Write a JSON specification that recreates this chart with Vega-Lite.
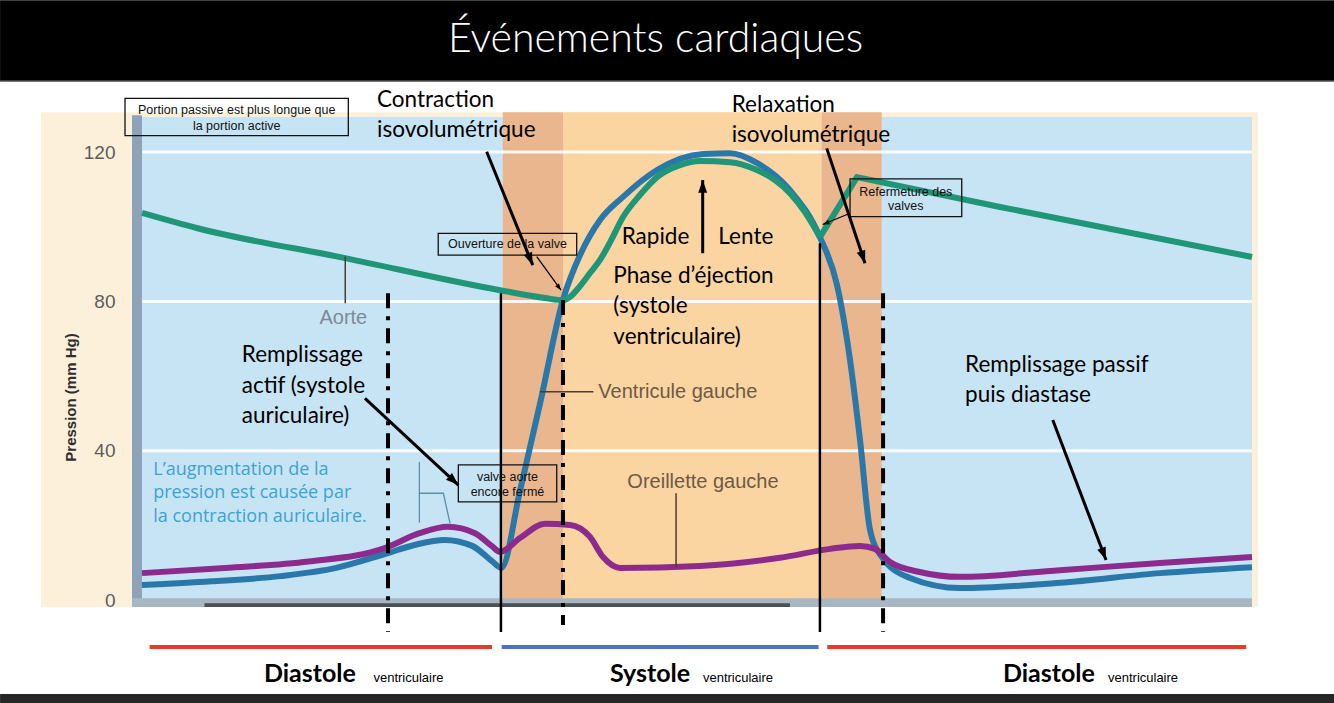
{
"$schema": "https://vega.github.io/schema/vega-lite/v6.json",
"width": 1110,
"height": 483,
"autosize": {"type": "none"},
"padding": {"left": 142, "top": 117, "right": 82, "bottom": 103},
"background": "#ffffff",
"config": {"view": {"stroke": null}},
"datasets": {
 "decor": [
  {"part": "title bar", "t": -102.3, "t2": 859.1, "p": 139.0, "p2": 160.7},
  {"part": "footer bar", "t": -102.3, "t2": 859.1, "p": -25.2, "p2": -27.6},
  {"part": "panel", "t": -72.8, "t2": 804.3, "p": -1.9, "p2": 130.7},
  {"part": "plot", "t": 0, "t2": 800, "p": 0, "p2": 129.4},
  {"part": "isovolumetric", "t": 260, "t2": 303.6, "p": 0, "p2": 130.7},
  {"part": "ejection", "t": 303.6, "t2": 489.9, "p": 0, "p2": 130.7},
  {"part": "isovolumetric", "t": 489.9, "t2": 533.1, "p": 0, "p2": 130.7},
  {"part": "axis strip", "t": -7.2, "t2": 0, "p": -1.9, "p2": 129.9},
  {"part": "axis base", "t": -7.2, "t2": 800, "p": -1.9, "p2": 0.5},
  {"part": "axis bar", "t": 45, "t2": 467, "p": -1.9, "p2": -0.9}
 ],
 "grid": [
  {"t": 0, "t2": 800, "p": 40},
  {"t": 0, "t2": 800, "p": 80},
  {"t": 0, "t2": 800, "p": 120}
 ],
 "pressure": [
  {"series": "Aorte", "t": 0, "p": 103.7},
  {"series": "Aorte", "t": 40, "p": 99.6},
  {"series": "Aorte", "t": 146.3, "p": 91.6},
  {"series": "Aorte", "t": 258, "p": 83.0},
  {"series": "Aorte", "t": 290.5, "p": 80.9},
  {"series": "Aorte", "t": 303.4, "p": 80.3},
  {"series": "Aorte", "t": 308.5, "p": 81.2},
  {"series": "Aorte", "t": 315.7, "p": 84.1},
  {"series": "Aorte", "t": 322.9, "p": 87.6},
  {"series": "Aorte", "t": 330.1, "p": 91.1},
  {"series": "Aorte", "t": 337.3, "p": 95.8},
  {"series": "Aorte", "t": 346.7, "p": 102.6},
  {"series": "Aorte", "t": 358.9, "p": 108.5},
  {"series": "Aorte", "t": 371.2, "p": 113.3},
  {"series": "Aorte", "t": 387.7, "p": 116.5},
  {"series": "Aorte", "t": 402.2, "p": 117.6},
  {"series": "Aorte", "t": 423.8, "p": 117.3},
  {"series": "Aorte", "t": 443.2, "p": 115.2},
  {"series": "Aorte", "t": 456.2, "p": 112.5},
  {"series": "Aorte", "t": 467, "p": 109.0},
  {"series": "Aorte", "t": 477.8, "p": 103.9},
  {"series": "Aorte", "t": 488.6, "p": 97.2},
  {"series": "Aorte", "t": 515.3, "p": 113.3},
  {"series": "Aorte", "t": 618.4, "p": 105.3},
  {"series": "Aorte", "t": 800, "p": 91.9},
  {"series": "Ventricule gauche", "t": 0, "p": 4.0},
  {"series": "Ventricule gauche", "t": 50, "p": 5.0},
  {"series": "Ventricule gauche", "t": 100, "p": 6.4},
  {"series": "Ventricule gauche", "t": 140, "p": 8.6},
  {"series": "Ventricule gauche", "t": 175, "p": 12.3},
  {"series": "Ventricule gauche", "t": 197, "p": 14.8},
  {"series": "Ventricule gauche", "t": 218, "p": 16.1},
  {"series": "Ventricule gauche", "t": 238, "p": 14.5},
  {"series": "Ventricule gauche", "t": 252, "p": 10.5},
  {"series": "Ventricule gauche", "t": 259, "p": 8.6},
  {"series": "Ventricule gauche", "t": 272.4, "p": 29.2},
  {"series": "Ventricule gauche", "t": 286.8, "p": 52.5},
  {"series": "Ventricule gauche", "t": 303.4, "p": 80.4},
  {"series": "Ventricule gauche", "t": 315.7, "p": 92.4},
  {"series": "Ventricule gauche", "t": 330.1, "p": 101.8},
  {"series": "Ventricule gauche", "t": 346.7, "p": 108.0},
  {"series": "Ventricule gauche", "t": 371.2, "p": 115.2},
  {"series": "Ventricule gauche", "t": 404.3, "p": 119.5},
  {"series": "Ventricule gauche", "t": 423.8, "p": 119.7},
  {"series": "Ventricule gauche", "t": 443.2, "p": 117.1},
  {"series": "Ventricule gauche", "t": 467, "p": 109.8},
  {"series": "Ventricule gauche", "t": 488.6, "p": 97.2},
  {"series": "Ventricule gauche", "t": 500.9, "p": 84.4},
  {"series": "Ventricule gauche", "t": 510.3, "p": 64.3},
  {"series": "Ventricule gauche", "t": 517.5, "p": 42.9},
  {"series": "Ventricule gauche", "t": 524.7, "p": 18.8},
  {"series": "Ventricule gauche", "t": 533.3, "p": 11.5},
  {"series": "Ventricule gauche", "t": 553.5, "p": 5.9},
  {"series": "Ventricule gauche", "t": 589.5, "p": 3.2},
  {"series": "Ventricule gauche", "t": 661.6, "p": 4.6},
  {"series": "Ventricule gauche", "t": 733.7, "p": 7.2},
  {"series": "Ventricule gauche", "t": 800, "p": 8.8},
  {"series": "Oreillette gauche", "t": 0, "p": 7.2},
  {"series": "Oreillette gauche", "t": 60, "p": 8.6},
  {"series": "Oreillette gauche", "t": 120, "p": 10.3},
  {"series": "Oreillette gauche", "t": 175, "p": 13.9},
  {"series": "Oreillette gauche", "t": 200, "p": 17.9},
  {"series": "Oreillette gauche", "t": 220.5, "p": 19.6},
  {"series": "Oreillette gauche", "t": 240, "p": 17.9},
  {"series": "Oreillette gauche", "t": 252, "p": 14.5},
  {"series": "Oreillette gauche", "t": 258, "p": 12.9},
  {"series": "Oreillette gauche", "t": 272.4, "p": 16.6},
  {"series": "Oreillette gauche", "t": 290.5, "p": 20.4},
  {"series": "Oreillette gauche", "t": 308.5, "p": 20.1},
  {"series": "Oreillette gauche", "t": 322.9, "p": 16.9},
  {"series": "Oreillette gauche", "t": 332.3, "p": 11.5},
  {"series": "Oreillette gauche", "t": 344.5, "p": 8.6},
  {"series": "Oreillette gauche", "t": 402.2, "p": 9.1},
  {"series": "Oreillette gauche", "t": 459.8, "p": 11.3},
  {"series": "Oreillette gauche", "t": 495.9, "p": 13.7},
  {"series": "Oreillette gauche", "t": 517.5, "p": 14.5},
  {"series": "Oreillette gauche", "t": 528.3, "p": 13.7},
  {"series": "Oreillette gauche", "t": 539.1, "p": 10.2},
  {"series": "Oreillette gauche", "t": 560.5, "p": 7.5},
  {"series": "Oreillette gauche", "t": 589.5, "p": 6.2},
  {"series": "Oreillette gauche", "t": 661.6, "p": 8.0},
  {"series": "Oreillette gauche", "t": 733.7, "p": 9.9},
  {"series": "Oreillette gauche", "t": 800, "p": 11.5}
 ],
 "events": [
  {"kind": "dashdot", "t": 177.3, "p": 82.2, "p2": -8.6},
  {"kind": "dashdot", "t": 303.4, "p": 80.4, "p2": -6.7},
  {"kind": "dashdot", "t": 534.1, "p": 82.2, "p2": -8.6},
  {"kind": "solid", "t": 258.7, "p": 82.2, "p2": -8.6},
  {"kind": "solid", "t": 488.6, "p": 95.6, "p2": -8.6}
 ],
 "leaders": [
  {"label": "Aorte", "t": 146.5, "t2": 146.5, "p": 92.0, "p2": 79.5},
  {"label": "Ventricule gauche", "t": 286.8, "t2": 325.3, "p": 55.8, "p2": 55.8},
  {"label": "Oreillette gauche", "t": 384.9, "t2": 384.9, "p": 28.6, "p2": 8.8}
 ],
 "bracket": [
  {"t": 199.9, "p": 28.6},
  {"t": 217.2, "p": 28.6},
  {"t": 222, "p": 20.5}
 ],
 "boxes": [
  {"t": -12.25, "t2": 148.7, "p": 124.4, "p2": 134.4},
  {"t": 213.5, "t2": 313.3, "p": 92.4, "p2": 98.2},
  {"t": 510.3, "t2": 590.8, "p": 102.7, "p2": 112.8},
  {"t": 228, "t2": 298.9, "p": 26.3, "p2": 36.2}
 ],
 "arrows": [
  {"name": "A", "weight": "thick", "t": 281.6, "p": 89.7, "t2": 248.4, "p2": 120.1},
  {"name": "B", "weight": "thin", "t": 302, "p": 83.0, "t2": 284.5, "p2": 92.0},
  {"name": "C", "weight": "thick", "t": 404.1, "p": 112.5, "t2": 404.1, "p2": 92.9},
  {"name": "D", "weight": "thick", "t": 521.1, "p": 90.2, "t2": 493.5, "p2": 121.0},
  {"name": "E", "weight": "thin", "t": 490.6, "p": 100.6, "t2": 510.3, "p2": 103.6},
  {"name": "F", "weight": "thick", "t": 228, "p": 30.8, "t2": 160.7, "p2": 54.0},
  {"name": "G", "weight": "thick", "t": 694.8, "p": 10.7, "t2": 656.4, "p2": 48.2}
 ],
 "phases": [
  {"phase": "Diastole", "t": 5.5, "t2": 252.3, "p": -12.6},
  {"phase": "Systole", "t": 259.2, "t2": 487.6, "p": -12.6},
  {"phase": "Diastole", "t": 493.9, "t2": 795.8, "p": -12.6}
 ]
},
"encoding": {
 "x": {"field": "t", "type": "quantitative", "scale": {"domain": [0, 800], "nice": false, "zero": false}, "axis": null},
 "y": {"field": "p", "type": "quantitative", "scale": {"domain": [0, 129.4], "nice": false, "zero": false},
  "axis": {"values": [0, 40, 80, 120], "title": "Pression (mm Hg)", "domain": false, "ticks": false, "grid": false, "zindex": 1,
   "labelFont": "Liberation Sans", "labelFontSize": 19, "labelColor": "#5c5c5c", "labelPadding": 27, "labelFlush": false,
   "titleFont": "Liberation Sans", "titleFontSize": 15, "titleFontWeight": "bold", "titleColor": "#2e2e2e",
   "titleX": -72, "titleY": 280, "titleAngle": 270, "titleAlign": "center", "titleBaseline": "middle"}}
},
"layer": [
 {"data": {"name": "decor"}, "mark": {"type": "rect"},
  "encoding": {"x2": {"field": "t2"}, "y2": {"field": "p2"},
   "color": {"field": "part", "type": "nominal", "legend": null,
    "scale": {"domain": ["title bar", "footer bar", "panel", "plot", "isovolumetric", "ejection", "axis strip", "axis base", "axis bar"],
     "range": ["#000000", "#262626", "#fcf0da", "#c7e4f5", "#e9b68d", "#fad5a2", "#8ea3b9", "#a9b7c4", "#4a5158"]}}}},
 {"data": {"values": [{"t": -102.3, "t2": 859.1, "p": 139.0}]}, "mark": {"type": "rule", "color": "#7a7a7a", "strokeWidth": 1.5},
  "encoding": {"x2": {"field": "t2"}}},
 {"data": {"name": "grid"}, "mark": {"type": "rule", "color": "#ffffff", "strokeWidth": 3, "opacity": 0.9},
  "encoding": {"x2": {"field": "t2"}}},
 {"data": {"name": "pressure"}, "transform": [{"filter": "datum.series !== 'Aorte'"}],
  "mark": {"type": "line", "interpolate": "monotone", "strokeWidth": 6},
  "encoding": {"color": {"field": "series", "type": "nominal", "legend": null,
   "scale": {"domain": ["Oreillette gauche", "Ventricule gauche"], "range": ["#8c2b8d", "#2a78aa"]}}}},
 {"data": {"name": "pressure"}, "transform": [{"filter": "datum.series === 'Aorte' && datum.t <= 488.6"}],
  "mark": {"type": "line", "interpolate": "monotone", "strokeWidth": 6, "color": "#1f9677"}},
 {"data": {"name": "pressure"}, "transform": [{"filter": "datum.series === 'Aorte' && datum.t >= 488.6"}],
  "mark": {"type": "line", "interpolate": "linear", "strokeWidth": 6, "color": "#1f9677", "strokeJoin": "round"}},
 {"data": {"name": "events"}, "transform": [{"filter": "datum.kind === 'dashdot'"}],
  "mark": {"type": "rule", "color": "#000000", "strokeWidth": 4, "strokeDash": [15, 8, 4, 8]},
  "encoding": {"y2": {"field": "p2"}}},
 {"data": {"name": "events"}, "transform": [{"filter": "datum.kind === 'solid'"}],
  "mark": {"type": "rule", "color": "#000000", "strokeWidth": 2.5},
  "encoding": {"y2": {"field": "p2"}}},
 {"data": {"name": "leaders"}, "mark": {"type": "rule", "color": "#4a3c2e", "strokeWidth": 1.5},
  "encoding": {"x2": {"field": "t2"}, "y2": {"field": "p2"}}},
 {"data": {"values": [{"t": 199.9, "p": 37.0, "p2": 20.7}]}, "mark": {"type": "rule", "color": "#5b8fa3", "strokeWidth": 1.3},
  "encoding": {"y2": {"field": "p2"}}},
 {"data": {"name": "bracket"}, "mark": {"type": "line", "color": "#5b8fa3", "strokeWidth": 1.3}},
 {"data": {"name": "boxes"}, "mark": {"type": "rect", "fill": null, "fillOpacity": 0, "stroke": "#111111", "strokeWidth": 1.3},
  "encoding": {"x2": {"field": "t2"}, "y2": {"field": "p2"}}},
 {"data": {"name": "arrows"}, "mark": {"type": "rule", "color": "#000000"},
  "encoding": {"x2": {"field": "t2"}, "y2": {"field": "p2"},
   "strokeWidth": {"field": "weight", "type": "nominal", "legend": null, "scale": {"domain": ["thick", "thin"], "range": [3, 1.2]}}}},
 {"data": {"name": "arrows"}, "transform": [{"filter": "datum.name === 'A'"}],
  "mark": {"type": "point", "shape": "M0,0L-0.35,1L0.35,1Z", "filled": true, "color": "#000000", "opacity": 1, "size": 650, "angle": 157.9}},
 {"data": {"name": "arrows"}, "transform": [{"filter": "datum.name === 'B'"}],
  "mark": {"type": "point", "shape": "M0,0L-0.35,1L0.35,1Z", "filled": true, "color": "#000000", "opacity": 1, "size": 180, "angle": 143.9}},
 {"data": {"name": "arrows"}, "transform": [{"filter": "datum.name === 'C'"}],
  "mark": {"type": "point", "shape": "M0,0L-0.35,1L0.35,1Z", "filled": true, "color": "#000000", "opacity": 1, "size": 650, "angle": 0}},
 {"data": {"name": "arrows"}, "transform": [{"filter": "datum.name === 'D'"}],
  "mark": {"type": "point", "shape": "M0,0L-0.35,1L0.35,1Z", "filled": true, "color": "#000000", "opacity": 1, "size": 650, "angle": 161.6}},
 {"data": {"name": "arrows"}, "transform": [{"filter": "datum.name === 'E'"}],
  "mark": {"type": "point", "shape": "M0,0L-0.35,1L0.35,1Z", "filled": true, "color": "#000000", "opacity": 1, "size": 180, "angle": 248}},
 {"data": {"name": "arrows"}, "transform": [{"filter": "datum.name === 'F'"}],
  "mark": {"type": "point", "shape": "M0,0L-0.35,1L0.35,1Z", "filled": true, "color": "#000000", "opacity": 1, "size": 650, "angle": 132.9}},
 {"data": {"name": "arrows"}, "transform": [{"filter": "datum.name === 'G'"}],
  "mark": {"type": "point", "shape": "M0,0L-0.35,1L0.35,1Z", "filled": true, "color": "#000000", "opacity": 1, "size": 650, "angle": 159.2}},
 {"data": {"name": "phases"}, "mark": {"type": "rule", "strokeWidth": 4},
  "encoding": {"x2": {"field": "t2"},
   "color": {"field": "phase", "type": "nominal", "legend": null, "scale": {"domain": ["Diastole", "Systole"], "range": ["#e8392c", "#4a73c5"]}}}},
 {"data": {"values": [{"label": "Événements cardiaques", "t": 370.1, "p": 146.8}]},
  "mark": {"type": "text", "font": "Lato", "fontWeight": 300, "fontSize": 41, "color": "#ffffff", "align": "center", "baseline": "alphabetic"},
  "encoding": {"text": {"field": "label"}}},
 {"data": {"values": [
   {"label": "Portion passive est plus longue que", "t": 68.25, "p": 131.3},
   {"label": "la portion active", "t": 68.25, "p": 127.0},
   {"label": "Ouverture de la valve", "t": 263.4, "p": 95.3},
   {"label": "Refermeture des", "t": 550.5, "p": 109.4},
   {"label": "valves", "t": 550.5, "p": 105.5},
   {"label": "valve aorte", "t": 263.4, "p": 33.0},
   {"label": "encore fermé", "t": 263.4, "p": 28.9}
  ]},
  "mark": {"type": "text", "font": "Liberation Sans", "fontSize": 12.5, "color": "#111111", "align": "center", "baseline": "middle"},
  "encoding": {"text": {"field": "label"}}},
 {"data": {"values": [
   {"label": "Contraction", "t": 169.4, "p": 132.1},
   {"label": "isovolumétrique", "t": 169.4, "p": 124.1},
   {"label": "Relaxation", "t": 425, "p": 130.7},
   {"label": "isovolumétrique", "t": 425, "p": 122.7},
   {"label": "Rapide", "t": 345.7, "p": 95.4},
   {"label": "Lente", "t": 415.4, "p": 95.4},
   {"label": "Phase d’éjection", "t": 339.7, "p": 85.0},
   {"label": "(systole", "t": 339.7, "p": 76.8},
   {"label": "ventriculaire)", "t": 339.7, "p": 68.6},
   {"label": "Remplissage", "t": 71.9, "p": 63.7},
   {"label": "actif (systole", "t": 71.9, "p": 55.4},
   {"label": "auriculaire)", "t": 71.9, "p": 47.3},
   {"label": "Remplissage passif", "t": 593.2, "p": 61.2},
   {"label": "puis diastase", "t": 593.2, "p": 53.1}
  ]},
  "mark": {"type": "text", "font": "Lato", "fontSize": 22.5, "color": "#000000", "align": "left", "baseline": "alphabetic"},
  "encoding": {"text": {"field": "label"}}},
 {"data": {"values": [
   {"label": "L’augmentation de la", "t": 8.1, "p": 33.5},
   {"label": "pression est causée par", "t": 8.1, "p": 27.2},
   {"label": "la contraction auriculaire.", "t": 8.1, "p": 21.0}
  ]},
  "mark": {"type": "text", "font": "Open Sans", "fontSize": 18, "color": "#3da3cf", "align": "left", "baseline": "alphabetic"},
  "encoding": {"text": {"field": "label"}}},
 {"data": {"values": [{"label": "Aorte", "t": 145.1, "p": 75.5}]},
  "mark": {"type": "text", "font": "Liberation Sans", "fontSize": 20, "color": "#7e8a94", "align": "center", "baseline": "middle"},
  "encoding": {"text": {"field": "label"}}},
 {"data": {"values": [
   {"label": "Ventricule gauche", "t": 328.9, "p": 55.8},
   {"label": "Oreillette gauche", "t": 349.8, "p": 31.7}
  ]},
  "mark": {"type": "text", "font": "Liberation Sans", "fontSize": 20, "color": "#6e5a44", "align": "left", "baseline": "middle"},
  "encoding": {"text": {"field": "label"}}},
 {"data": {"values": [
   {"label": "Diastole", "t": 87.9, "p": -21.9},
   {"label": "Systole", "t": 337.3, "p": -21.9},
   {"label": "Diastole", "t": 620.5, "p": -21.9}
  ]},
  "mark": {"type": "text", "font": "Lato", "fontWeight": "bold", "fontSize": 25, "color": "#000000", "align": "left", "baseline": "alphabetic"},
  "encoding": {"text": {"field": "label"}}},
 {"data": {"values": [
   {"label": "ventriculaire", "t": 166.8, "p": -21.9},
   {"label": "ventriculaire", "t": 404.3, "p": -21.9},
   {"label": "ventriculaire", "t": 696.2, "p": -21.9}
  ]},
  "mark": {"type": "text", "font": "Liberation Sans", "fontSize": 13, "color": "#000000", "align": "left", "baseline": "alphabetic"},
  "encoding": {"text": {"field": "label"}}}
],
"resolve": {"scale": {"color": "independent", "strokeWidth": "independent"}}
}
